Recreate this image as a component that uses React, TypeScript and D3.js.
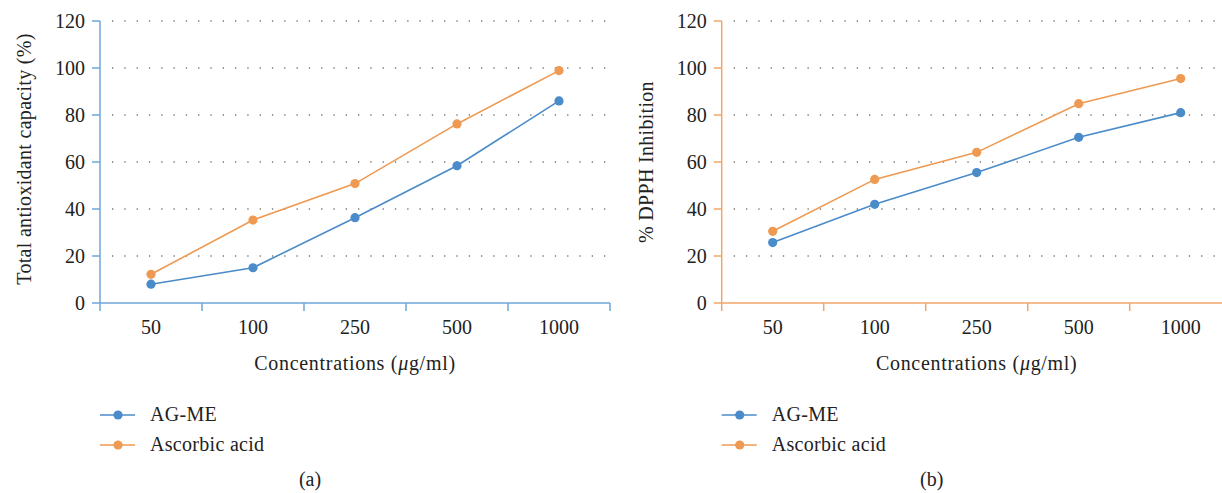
import React from "react";
import * as d3 from "d3";

const categories = ["50", "100", "250", "500", "1000"];
const yTicks = [0, 20, 40, 60, 80, 100, 120];

const tacAgMe = [8.0, 15.0, 36.3, 58.4, 86.0];
const tacAscorbic = [12.2, 35.3, 50.8, 76.2, 98.9];
const dpphAgMe = [25.7, 42.0, 55.5, 70.5, 81.0];
const dpphAscorbic = [30.5, 52.6, 64.1, 84.8, 95.5];

const seriesNames = ["AG-ME", "Ascorbic acid"];
const BLUE = "#4a8bc9";
const ORANGE = "#ee9a52";
const FONT = "'Liberation Serif', 'DejaVu Serif', serif";

type PanelProps = {
  x0: number;
  axisColor: string;
  yLabel: string;
  yLabelCenter: number;
  tag: string;
  s1: number[];
  s2: number[];
};

function Panel({ x0, axisColor, yLabel, yLabelCenter, tag, s1, s2 }: PanelProps) {
  const top = 21;
  const bottom = 303;
  const bandW = 102;
  const x = d3.scaleBand<string>().domain(categories).range([x0, x0 + bandW * categories.length]).padding(0);
  const y = d3.scaleLinear().domain([0, 120]).range([bottom, top]);
  const right = x0 + bandW * categories.length;
  const line = d3
    .line<number>()
    .x((_, i) => (x(categories[i]) as number) + bandW / 2)
    .y((d) => y(d));
  const center = (x0 + right) / 2;
  const series = [
    { name: seriesNames[0], color: BLUE, data: s1 },
    { name: seriesNames[1], color: ORANGE, data: s2 },
  ];
  return (
    <g>
      {yTicks.filter((t) => t > 0).map((t) => (
        <line key={"g" + t} x1={x0 + 12} x2={right} y1={y(t)} y2={y(t)} stroke="#777" strokeWidth={1.3} strokeDasharray="1.3 11" />
      ))}
      {yTicks.map((t) => (
        <g key={"t" + t}>
          <line x1={x0 - 8} x2={x0} y1={y(t)} y2={y(t)} stroke={axisColor} strokeWidth={1.5} />
          <text x={x0 - 15} y={y(t) + 7} textAnchor="end" fontSize={20} fontFamily={FONT} fill="#222">{t}</text>
        </g>
      ))}
      <line x1={x0} x2={x0} y1={top} y2={bottom} stroke={axisColor} strokeWidth={1.5} />
      <line x1={x0} x2={right} y1={bottom} y2={bottom} stroke={axisColor} strokeWidth={1.5} />
      {categories.map((c, i) => (
        <line key={"xt" + i} x1={(x(c) as number)} x2={(x(c) as number)} y1={bottom} y2={bottom + 8} stroke={axisColor} strokeWidth={1.5} />
      ))}
      <line x1={right} x2={right} y1={bottom} y2={bottom + 8} stroke={axisColor} strokeWidth={1.5} />
      {categories.map((c) => (
        <text key={"xl" + c} x={(x(c) as number) + bandW / 2} y={334} textAnchor="middle" fontSize={20} fontFamily={FONT} fill="#222">{c}</text>
      ))}
      <text x={center} y={370} textAnchor="middle" fontSize={20} letterSpacing={0.7} fontFamily={FONT} fill="#222">
        Concentrations (<tspan fontStyle="italic">μ</tspan>g/ml)
      </text>
      <text transform={`translate(${x0 - 69},${yLabelCenter}) rotate(-90)`} textAnchor="middle" fontSize={20} letterSpacing={0.3} fontFamily={FONT} fill="#222">{yLabel}</text>
      {series.map((s) => (
        <g key={s.name}>
          <path d={line(s.data) || ""} fill="none" stroke={s.color} strokeWidth={1.6} />
          {s.data.map((v, i) => (
            <circle key={i} cx={(x(categories[i]) as number) + bandW / 2} cy={y(v)} r={4.6} fill={s.color} />
          ))}
        </g>
      ))}
      {series.map((s, k) => (
        <g key={"leg" + k}>
          <line x1={x0} x2={x0 + 35} y1={415 + k * 30} y2={415 + k * 30} stroke={s.color} strokeWidth={2} opacity={0.75} />
          <circle cx={x0 + 18} cy={415 + k * 30} r={4.6} fill={s.color} />
          <text x={x0 + 50} y={421 + k * 30} fontSize={20} letterSpacing={0.3} fontFamily={FONT} fill="#222">{s.name}</text>
        </g>
      ))}
      <text x={x0 + 210} y={486} textAnchor="middle" fontSize={20} fontFamily={FONT} fill="#222">{tag}</text>
    </g>
  );
}

export default function App() {
  return (
    <svg width={1222} height={493} style={{ position: "absolute", left: 0, top: 0, background: "#fff" }}>
      <rect width={1222} height={493} fill="#fff" />
      <Panel x0={100} axisColor="#6fa6d8" yLabel="Total antioxidant capacity (%)" yLabelCenter={159} tag="(a)" s1={tacAgMe} s2={tacAscorbic} />
      <Panel x0={721.7} axisColor="#f0a66a" yLabel="% DPPH Inhibition" yLabelCenter={162} tag="(b)" s1={dpphAgMe} s2={dpphAscorbic} />
    </svg>
  );
}
